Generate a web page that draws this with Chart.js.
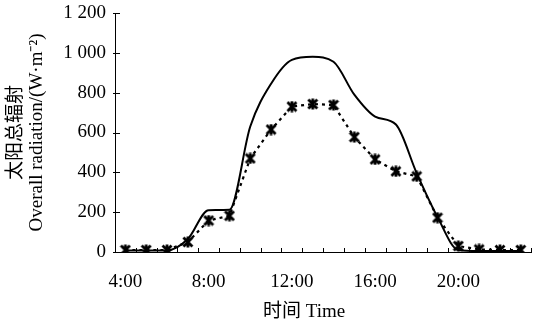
<!DOCTYPE html>
<html>
<head>
<meta charset="utf-8">
<script src="https://cdn.jsdelivr.net/npm/chart.js@4/dist/chart.umd.min.js"></script>
<style>
  html, body { margin: 0; padding: 0; background: #fff; }
  #wrap { width: 540px; height: 325px; }
</style>
</head>
<body>
<div id="wrap"><canvas id="radChart"></canvas></div>
<script>
// hourly readings, 4:00 - 23:00
const hours = ["4:00", "5:00", "6:00", "7:00", "8:00", "9:00", "10:00", "11:00", "12:00", "13:00",
    "14:00", "15:00", "16:00", "17:00", "18:00", "19:00", "20:00", "21:00", "22:00", "23:00"];
const solidSeries = [8, 8, 8, 65, 210, 212, 630, 845, 965, 980,
    955, 790, 680, 640, 395, 175, 10, 5, 5, 5];
const starSeries = [10, 10, 10, 50, 158, 182, 470, 615, 730, 743,
    738, 577, 465, 405, 380, 172, 30, 13, 10, 10];
const yTickLabels = ["0", "200", "400", "600", "800", "1 000", "1 200"];

const serif = "'Liberation Serif', 'Noto Sans CJK SC', serif";

// star marker: X with a vertical bar
function makeStar(size) {
    const c = document.createElement("canvas");
    c.width = size;
    c.height = size;
    const g = c.getContext("2d");
    g.strokeStyle = "#000";
    g.lineWidth = 2.8;
    g.beginPath();
    g.moveTo(size / 2, 0.5);
    g.lineTo(size / 2, size - 0.5);
    g.moveTo(1.5, 1.5);
    g.lineTo(size - 1.5, size - 1.5);
    g.moveTo(size - 1.5, 1.5);
    g.lineTo(1.5, size - 1.5);
    g.stroke();
    return c;
}
const star = makeStar(12);

// small tick marks pointing into the plot
const innerTicks = {
    id: "innerTicks",
    afterDraw(chart) {
        const { ctx, scales } = chart;
        const x = scales.x, y = scales.y;
        const step = x.getPixelForValue(1) - x.getPixelForValue(0);
        ctx.save();
        ctx.strokeStyle = "#000";
        ctx.lineWidth = 1;
        ctx.beginPath();
        for (let i = 0; i <= hours.length; i++) {
            const px = Math.round(x.getPixelForValue(i) - step / 2) + 0.5;
            ctx.moveTo(px, y.bottom);
            ctx.lineTo(px, y.bottom - 4);
        }
        y.ticks.forEach(t => {
            const py = Math.round(y.getPixelForValue(t.value)) + 0.5;
            ctx.moveTo(x.left - 2, py);
            ctx.lineTo(x.left + 5, py);
        });
        ctx.stroke();
        ctx.restore();
    }
};

new Chart(document.getElementById("radChart"), {
    type: "line",
    data: {
        labels: hours,
        datasets: [
            {
                label: "solid",
                data: solidSeries,
                borderColor: "#000",
                borderWidth: 2,
                pointRadius: 0,
                cubicInterpolationMode: "monotone",
            },
            {
                label: "stars",
                data: starSeries,
                borderColor: "#000",
                borderWidth: 2.2,
                borderDash: [3, 4],
                pointStyle: star,
                pointRadius: 6,
                tension: 0,
            },
        ],
    },
    options: {
        responsive: true,
        maintainAspectRatio: false,
        animation: false,
        layout: { padding: { top: 13, right: 4, left: 0, bottom: 0 } },
        plugins: {
            legend: { display: false },
            tooltip: { enabled: false },
        },
        scales: {
            x: {
                type: "category",
                offset: true,
                grid: { display: false, drawTicks: false },
                border: { display: true, color: "#000", width: 1 },
                ticks: {
                    autoSkip: false,
                    maxRotation: 0,
                    padding: 19,
                    color: "#000",
                    font: { family: serif, size: 19 },
                    callback: (v, i) => (i % 4 === 0 ? hours[i] : ""),
                },
                title: {
                    display: true,
                    text: "时间 Time\u2002\u2002\u2002\u2002",
                    color: "#000",
                    font: { family: serif, size: 19, lineHeight: 1.1 },
                    padding: { top: 0, bottom: 3 },
                },
                afterFit: (scale) => { scale.height = 73; },
            },
            y: {
                min: 0,
                max: 1200,
                grid: { display: false, drawTicks: false },
                border: { display: true, color: "#000", width: 1 },
                ticks: {
                    stepSize: 200,
                    padding: 9,
                    color: "#000",
                    font: { family: serif, size: 19 },
                    callback: (v, i) => yTickLabels[i],
                },
                title: {
                    display: true,
                    text: ["太阳总辐射", "Overall radiation/(W·m\u207B\u00B2)"],
                    color: "#000",
                    font: { family: serif, size: 19, lineHeight: 1.1 },
                    padding: { top: 6, bottom: 0 },
                },
                afterFit: (scale) => {
                    scale.width = 115;
                    scale.paddingTop = 0;
                    scale.paddingBottom = 0;
                },
            },
        },
    },
    plugins: [innerTicks],
});
</script>
</body>
</html>
